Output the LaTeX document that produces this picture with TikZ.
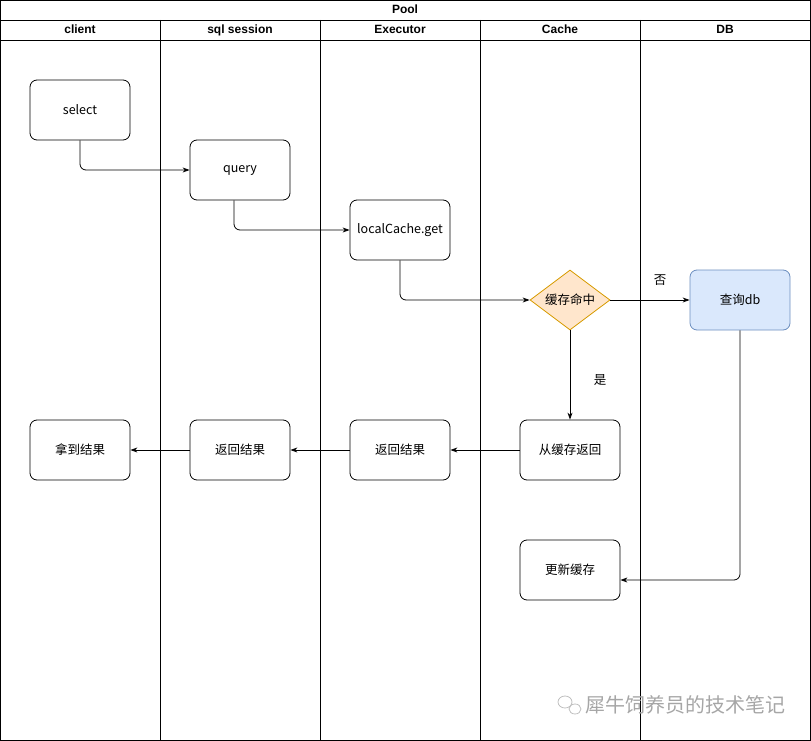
\documentclass[tikz,border=0pt]{standalone}
\usepackage{fontspec}
\setmainfont{Liberation Sans}
\newfontfamily\cjk{Noto Sans CJK SC}
\usetikzlibrary{shapes.geometric, arrows.meta}
\definecolor{hitfill}{HTML}{FFE6CC}
\definecolor{hitline}{HTML}{D79B00}
\definecolor{dbfill}{HTML}{DAE8FC}
\definecolor{dbline}{HTML}{6C8EBF}

\begin{document}
\begin{tikzpicture}[x=1pt,y=-1pt,
    box/.style={draw,rounded corners=7pt,minimum width=100pt,minimum height=60pt,inner sep=0pt,line width=0.8pt,font=\cjk\fontsize{12.5}{14}\selectfont},
    head/.style={font=\bfseries\fontsize{12}{14}\selectfont,text height=9pt,text depth=2.5pt},
    link/.style={line width=0.8pt,-{Stealth[length=7pt,width=5pt]},rounded corners=6pt}]
    \useasboundingbox (0,0) rectangle (811,741);
    % pool frame and lanes
    \draw[line width=0.8pt] (0.5,0.5) rectangle (810.5,740.5);
    \draw[line width=0.8pt] (0.5,20) -- (810.5,20);
    \draw[line width=0.8pt] (0.5,40) -- (810.5,40);
    \foreach \x in {160,320,480,640}
        \draw[line width=0.8pt] (\x,20) -- (\x,740.5);
    \node[head] (pool) at (405,10) {Pool};
    \node[head] (hclient) at (80,30) {client};
    \node[head] (hsession) at (240,30) {sql session};
    \node[head] (hexec) at (400,30) {Executor};
    \node[head] (hcache) at (560,30) {Cache};
    \node[head] (hdb) at (725,30) {DB};
    % steps
    \node[box] (sel) at (80,110) {select};
    \node[box] (qry) at (240,170) {query};
    \node[box] (lcget) at (400,230) {localCache.get};
    \node[draw=hitline,fill=hitfill,diamond,aspect=1.333,minimum width=80pt,minimum height=60pt,inner sep=0pt,line width=0.8pt,font=\cjk\fontsize{12.5}{14}\selectfont] (hit) at (570,300) {缓存命中};
    \node[box,draw=dbline,fill=dbfill] (qdb) at (740,300) {查询db};
    \node[box] (fromc) at (570,450) {从缓存返回};
    \node[box] (retx) at (400,450) {返回结果};
    \node[box] (rets) at (240,450) {返回结果};
    \node[box] (got) at (80,450) {拿到结果};
    \node[box] (upd) at (570,570) {更新缓存};
    % branch labels
    \node[font=\cjk\fontsize{12.5}{14}\selectfont] (no) at (660,280) {否};
    \node[font=\cjk\fontsize{12.5}{14}\selectfont] (yes) at (600,380) {是};
    % connectors
    \draw[link] (sel.south) |- (qry.west);
    \draw[link] ([xshift=-6pt]qry.south) |- (lcget.west);
    \draw[link] (lcget.south) |- (hit.west);
    \draw[link] (hit.east) -- (qdb.west);
    \draw[link] (hit.south) -- (fromc.north);
    \draw[link] (qdb.south) |- ([yshift=-10pt]upd.east);
    \draw[link] (fromc.west) -- (retx.east);
    \draw[link] (retx.west) -- (rets.east);
    \draw[link] (rets.west) -- (got.east);
    % watermark
    \draw[gray!50,line width=0.8pt] (565,702) ellipse (7pt and 6pt);
    \draw[gray!50,line width=0.8pt] (575,709) ellipse (6pt and 5pt);
    \node[gray!70,font=\cjk\fontsize{20}{22}\selectfont,anchor=west] (mark) at (582,705) {犀牛饲养员的技术笔记};
\end{tikzpicture}
\end{document}
